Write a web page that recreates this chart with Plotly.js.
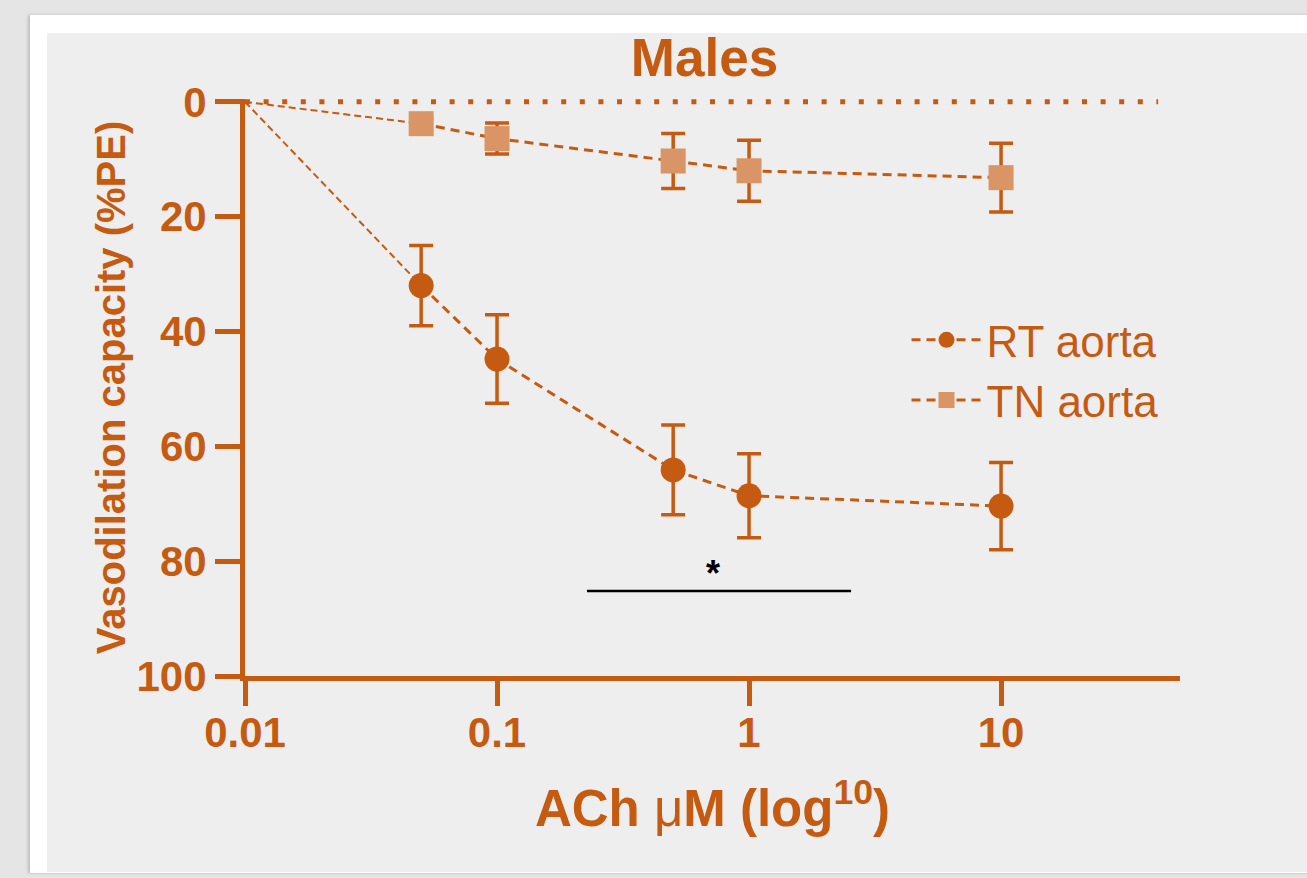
<!DOCTYPE html>
<html>
<head>
<meta charset="utf-8">
<script src="https://cdn.plot.ly/plotly-3.0.1.min.js"></script>
<style>
  html, body { margin: 0; padding: 0; width: 1307px; height: 878px; overflow: hidden; background: #e5e5e5; }
  #card { position: absolute; left: 30px; top: 15px; width: 1290px; height: 858px; background: #ffffff; box-shadow: -2px 0 3px rgba(0,0,0,0.18); }
  #panel { position: absolute; left: 47px; top: 33px; width: 1270px; height: 839px; background: #eeeeee; }
  #chart { position: absolute; left: 0; top: 0; width: 1307px; height: 878px; }
</style>
</head>
<body>
<div id="card"></div>
<div id="panel"></div>
<div id="chart"></div>
<script>
// ---- data ----
const doses = [0.05, 0.1, 0.5, 1, 10];          // ACh µM
const rtMean = [32.0, 44.8, 64.1, 68.6, 70.4];   // RT aorta
const rtErr  = [7.0, 7.7, 7.8, 7.3, 7.6];
const tnMean = [3.8, 6.4, 10.3, 12.0, 13.2];     // TN aorta
const tnErr  = [1.0, 2.7, 4.8, 5.3, 6.0];
const originX = 0.01, originY = 0;
const baselineX = [0.01, 42];                     // dotted 0 reference line
const baselineY = [0, 0];
const sigBarX = [0.2275, 2.54];                   // significance bar
const sigBarY = [85.2, 85.2];
const sigStarX = [0.72], sigStarY = [82.7], sigStarText = ['*'];
const xTickVals = [0.01, 0.1, 1, 10];
const xTickText = ['0.01', '0.1', '1', '10'];
const yTickVals = [0, 20, 40, 60, 80, 100];

const DARK = '#c55a11';
const LIGHT = '#da9566';
const FONT = 'Liberation Sans, Arial, sans-serif';

const traces = [
  { x: baselineX, y: baselineY, mode: 'lines', showlegend: false, hoverinfo: 'skip',
    line: { color: DARK, width: 5, dash: '5px,13.6px' } },
  { x: [originX, doses[0]], y: [originY, rtMean[0]], mode: 'lines', showlegend: false, hoverinfo: 'skip',
    line: { color: DARK, width: 2, dash: '7px,4px' } },
  { x: [originX, doses[0]], y: [originY, tnMean[0]], mode: 'lines', showlegend: false, hoverinfo: 'skip',
    line: { color: DARK, width: 2, dash: '7px,4px' } },
  { x: doses, y: rtMean, name: 'RT aorta', mode: 'lines+markers',
    line: { color: DARK, width: 3, dash: '9px,6px' },
    marker: { symbol: 'circle', size: 25, color: DARK },
    error_y: { type: 'data', array: rtErr, visible: true, color: DARK, thickness: 3.5, width: 12 } },
  { x: doses, y: tnMean, name: 'TN aorta', mode: 'lines+markers',
    line: { color: DARK, width: 3, dash: '9px,6px' },
    marker: { symbol: 'square', size: 25, color: LIGHT },
    error_y: { type: 'data', array: tnErr, visible: true, color: DARK, thickness: 3.5, width: 12 } },
  { x: sigBarX, y: sigBarY, mode: 'lines', showlegend: false, hoverinfo: 'skip',
    line: { color: '#000000', width: 2.5 } },
  { x: sigStarX, y: sigStarY, mode: 'text', text: sigStarText, showlegend: false, hoverinfo: 'skip',
    textposition: 'middle center', textfont: { family: FONT, size: 36, color: '#000000', weight: 'bold' } }
];

const layout = {
  width: 1307, height: 878,
  paper_bgcolor: 'rgba(0,0,0,0)', plot_bgcolor: 'rgba(0,0,0,0)',
  margin: { l: 245, r: 127, t: 99, b: 202, pad: 0 },
  font: { family: FONT, color: DARK },
  title: { text: 'Males', x: 0.539, xref: 'container', xanchor: 'center',
           y: 0.935, yref: 'container', yanchor: 'middle',
           font: { family: FONT, size: 53, color: DARK, weight: 'bold' } },
  xaxis: {
    type: 'log', range: [-2, 1.71], tickmode: 'array', tickvals: xTickVals, ticktext: xTickText,
    showline: true, linewidth: 5, linecolor: DARK, ticks: 'outside', ticklen: 25, tickwidth: 5, tickcolor: DARK,
    showgrid: false, zeroline: false, automargin: false, ticklabelstandoff: -9,
    tickfont: { family: FONT, size: 42, color: DARK, weight: 'bold' },
    title: { text: 'ACh <span style="font-weight:normal">μ</span>M (log<sup>10</sup>)', standoff: 36,
             font: { family: FONT, size: 51, color: DARK, weight: 'bold' } }
  },
  yaxis: {
    range: [100, -0.5], tickmode: 'array', tickvals: yTickVals,
    showline: true, linewidth: 5, linecolor: DARK, ticks: 'outside', ticklen: 25, tickwidth: 5, tickcolor: DARK,
    showgrid: false, zeroline: false, automargin: false,
    tickfont: { family: FONT, size: 42, color: DARK, weight: 'bold' },
    title: { text: 'Vasodilation capacity (%PE)', standoff: 0,
             font: { family: FONT, size: 40, color: DARK, weight: 'bold' } }
  },
  legend: { x: 0.7075, y: 0.53, xanchor: 'left', yanchor: 'middle', bgcolor: 'rgba(0,0,0,0)',
            itemwidth: 70, font: { family: FONT, size: 44, color: DARK }, tracegroupgap: 0 },
  showlegend: true
};

Plotly.newPlot('chart', traces, layout, { displayModeBar: false, staticPlot: true });
</script>
</body>
</html>
